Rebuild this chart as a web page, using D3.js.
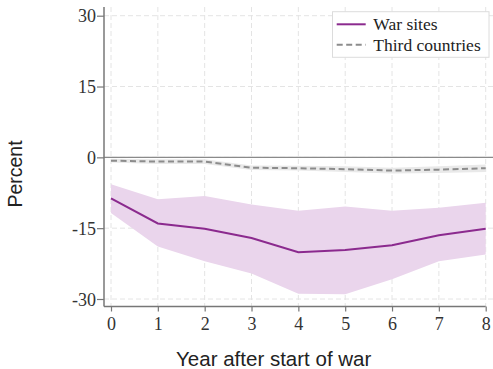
<!DOCTYPE html>
<html>
<head>
<meta charset="utf-8">
<script src="https://cdn.jsdelivr.net/npm/d3@7"></script>
<style>
  html, body { margin: 0; padding: 0; background: #fff; }
  svg { display: block; }
</style>
</head>
<body>
<svg id="chart" width="493" height="369"></svg>
<script>
// Years after the start of a war
const years = [0, 1, 2, 3, 4, 5, 6, 7, 8];

// War sites: point estimate and confidence band (percent)
const warEstimate = [-8.7, -14.0, -15.1, -17.1, -20.1, -19.6, -18.6, -16.5, -15.1];
const warLower    = [-11.8, -18.9, -22.0, -24.6, -28.9, -29.0, -25.8, -22.0, -20.6];
const warUpper    = [-5.7, -8.9, -8.2, -10.0, -11.3, -10.4, -11.3, -10.7, -9.6];

// Third countries: point estimate and confidence band (percent)
const thirdEstimate = [-0.7, -0.9, -0.9, -2.2, -2.3, -2.5, -2.8, -2.6, -2.3];
const thirdLower    = [-1.1, -1.4, -1.4, -2.7, -2.8, -3.1, -3.4, -3.3, -3.1];
const thirdUpper    = [-0.3, -0.4, -0.4, -1.7, -1.8, -1.9, -2.2, -1.9, -1.5];

// Axis ticks and labels
const yTicks = [-30, -15, 0, 15, 30];
const xTicks = years;
const seriesNames = ["War sites", "Third countries"];
const xTitle = "Year after start of war";
const yTitle = "Percent";

const svg = d3.select("#chart");

// Plot region
const plotLeft = 104, plotRight = 493, plotTop = 7, plotBottom = 306.5;
const x = d3.scaleLinear().domain([0, 8]).range([111, 485.7]);
const y = d3.scaleLinear().domain([-30, 30]).range([299, 15.7]);

const serif = "'Liberation Serif', 'Times New Roman', serif";
const sans = "'Liberation Sans', Arial, sans-serif";
const plainNumber = d => String(d); // keeps an ASCII hyphen for negatives

// Gridlines
const grid = svg.append("g").attr("stroke", "#e4e4e4").attr("stroke-width", 1)
  .attr("stroke-dasharray", "5,3").attr("fill", "none");
grid.selectAll("line.h").data(yTicks).join("line").attr("class", "h")
  .attr("x1", plotLeft).attr("x2", plotRight)
  .attr("y1", d => y(d)).attr("y2", d => y(d));
grid.selectAll("line.v").data(xTicks).join("line").attr("class", "v")
  .attr("x1", d => x(d)).attr("x2", d => x(d))
  .attr("y1", plotTop).attr("y2", plotBottom);

// Confidence bands
const bandFor = (lo, hi) => d3.area()
  .x((d, i) => x(years[i]))
  .y0((d, i) => y(lo[i]))
  .y1((d, i) => y(hi[i]));

svg.append("path").datum(years)
  .attr("d", bandFor(thirdLower, thirdUpper))
  .attr("fill", "#e9e9e9");

svg.append("path").datum(years)
  .attr("d", bandFor(warLower, warUpper))
  .attr("fill", "#ead5ec");

// Zero reference line
svg.append("line")
  .attr("x1", plotLeft).attr("x2", plotRight)
  .attr("y1", y(0)).attr("y2", y(0))
  .attr("stroke", "#8a8a8a").attr("stroke-width", 1.4);

// Estimate lines
const lineFor = vals => d3.line().x((d, i) => x(years[i])).y((d, i) => y(vals[i]));

svg.append("path").datum(years)
  .attr("d", lineFor(thirdEstimate))
  .attr("fill", "none").attr("stroke", "#8c8c8c")
  .attr("stroke-width", 2).attr("stroke-dasharray", "6,3.5");

svg.append("path").datum(years)
  .attr("d", lineFor(warEstimate))
  .attr("fill", "none").attr("stroke", "#8b2a8e")
  .attr("stroke-width", 2);

// Y axis
const yAxis = svg.append("g").attr("transform", `translate(${plotLeft},0)`)
  .call(d3.axisLeft(y).tickValues(yTicks).tickSize(7).tickPadding(1).tickFormat(plainNumber));
yAxis.select(".domain").remove();
yAxis.selectAll(".tick line").attr("stroke", "#777").attr("stroke-width", 1.2);
yAxis.selectAll(".tick text").attr("font-family", serif).attr("font-size", 18)
  .attr("fill", "#333").attr("dy", "0.34em");
svg.append("line").attr("x1", plotLeft).attr("x2", plotLeft).attr("y1", plotTop).attr("y2", plotBottom)
  .attr("stroke", "#777").attr("stroke-width", 1.5);

// X axis
const xAxis = svg.append("g").attr("transform", `translate(0,${plotBottom})`)
  .call(d3.axisBottom(x).tickValues(xTicks).tickSize(5).tickPadding(6).tickFormat(plainNumber));
xAxis.select(".domain").remove();
xAxis.selectAll(".tick line").attr("stroke", "#777").attr("stroke-width", 1.2);
xAxis.selectAll(".tick text").attr("font-family", serif).attr("font-size", 18)
  .attr("fill", "#333");
svg.append("line").attr("x1", plotLeft).attr("x2", x(8)).attr("y1", plotBottom).attr("y2", plotBottom)
  .attr("stroke", "#777").attr("stroke-width", 1.5);

// Axis titles
svg.append("text")
  .attr("x", 273.7).attr("y", 366)
  .attr("text-anchor", "middle")
  .attr("font-family", sans).attr("font-size", 20.5).attr("fill", "#222")
  .text(xTitle);

svg.append("text")
  .attr("transform", "translate(22,174) rotate(-90)")
  .attr("text-anchor", "middle")
  .attr("font-family", sans).attr("font-size", 19.5).attr("fill", "#222")
  .text(yTitle);

// Legend
const legend = svg.append("g");
legend.append("rect")
  .attr("x", 332.5).attr("y", 11.7).attr("width", 156.5).attr("height", 45.6)
  .attr("fill", "#fff").attr("stroke", "#dcdcdc").attr("stroke-width", 1);
const legendStyles = [
  { color: "#8b2a8e", dash: null },
  { color: "#8c8c8c", dash: "6,3.5" }
];
seriesNames.forEach((name, i) => {
  const cy = 24.3 + i * 20.5;
  legend.append("line")
    .attr("x1", 336.7).attr("x2", 365.7).attr("y1", cy).attr("y2", cy)
    .attr("stroke", legendStyles[i].color).attr("stroke-width", 2)
    .attr("stroke-dasharray", legendStyles[i].dash);
  legend.append("text")
    .attr("x", 373.3).attr("y", cy + 5.8)
    .attr("font-family", serif).attr("font-size", 17.5)
    .attr("fill", "#222")
    .text(name);
});
</script>
</body>
</html>
